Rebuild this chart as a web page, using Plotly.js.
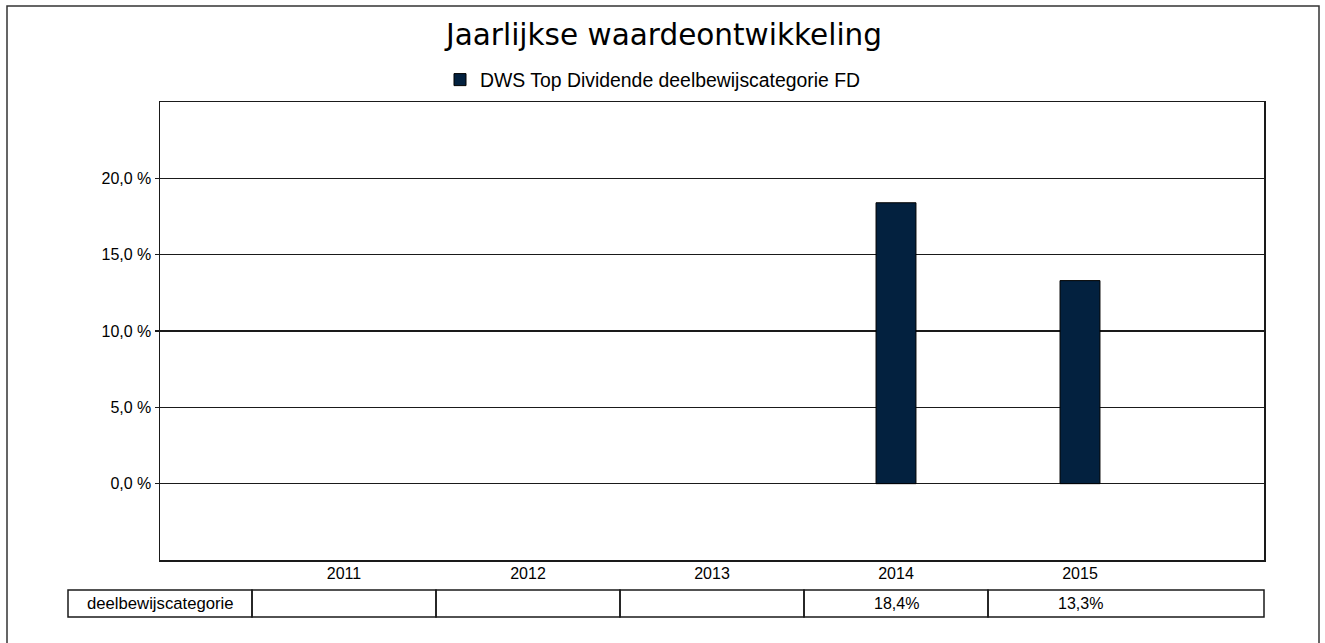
<!DOCTYPE html>
<html>
<head>
<meta charset="utf-8">
<script src="https://cdn.plot.ly/plotly-3.0.1.min.js"></script>
<style>html,body{margin:0;padding:0;background:#fff;}#chart{width:1325px;height:643px;}</style>
</head>
<body>
<div id="chart"></div>
<script>
const years = ['2011', '2012', '2013', '2014', '2015'];
const values = [null, null, null, 18.4, 13.3];
const tableLabels = ['', '', '', '18,4%', '13,3%'];
const seriesName = 'DWS Top Dividende deelbewijscategorie FD';
const rowLabel = 'deelbewijscategorie';
const yTicks = [0, 5, 10, 15, 20];
const yTickText = ['0,0 %', '5,0 %', '10,0 %', '15,0 %', '20,0 %'];

const W = 1325, H = 643;
const mL = 160, mR = 61, mT = 102, mB = 83;
const pw = W - mL - mR, ph = H - mT - mB;
const px = v => (v - mL) / pw;
const py = v => (H - mB - v) / ph;
const xRange = [-1, 5];
const dx = d => (d - xRange[0]) / (xRange[1] - xRange[0]); // data x -> paper x

const lineCol = '#1a1a1a';
const fontFam = 'Liberation Sans, Arial, sans-serif';
const shapes = [];
// outer frame (bottom edge runs off the picture)
shapes.push({type: 'rect', xref: 'paper', yref: 'paper', x0: px(7), x1: px(1319), y0: py(6), y1: py(660),
  line: {color: '#333', width: 1.5}, layer: 'below'});
// data table under the plot
const tTop = py(590), tBot = py(617);
const n = years.length;
const bounds = [-1.5];
for (let i = 0; i < n; i++) bounds.push(i - 0.5);
bounds.push(xRange[1]);
for (let i = 0; i < bounds.length - 1; i++) {
  shapes.push({type: 'rect', xref: 'paper', yref: 'paper', x0: dx(bounds[i]), x1: dx(bounds[i + 1]), y0: tBot, y1: tTop,
    line: {color: lineCol, width: 1.5}});
}
const annotations = [];
annotations.push({xref: 'paper', yref: 'paper', x: dx(-1), y: (tTop + tBot) / 2, text: rowLabel, showarrow: false,
  xanchor: 'center', yanchor: 'middle', font: {family: fontFam, size: 16.7, color: '#000'}});
tableLabels.forEach((t, i) => {
  if (t) annotations.push({xref: 'paper', yref: 'paper', x: dx(i), y: (tTop + tBot) / 2, text: t, showarrow: false,
    xanchor: 'center', yanchor: 'middle', font: {family: fontFam, size: 16, color: '#000'}});
});

const data = [{
  type: 'bar', x: years, y: values, name: seriesName, width: 0.217,
  marker: {color: '#03213f', line: {color: '#000', width: 1}},
  hoverinfo: 'skip'
}];

const layout = {
  width: W, height: H,
  margin: {l: mL, r: mR, t: mT, b: mB},
  paper_bgcolor: '#fff', plot_bgcolor: '#fff',
  font: {family: fontFam, size: 16, color: '#000'},
  title: {text: 'Jaarlijkse waardeontwikkeling', xref: 'container', x: 664 / W, xanchor: 'center',
    yref: 'container', y: 1 - 35 / H, yanchor: 'middle',
    font: {family: 'DejaVu Sans, Verdana, sans-serif', size: 29.5, color: '#000'}},
  showlegend: true,
  legend: {orientation: 'h', x: px(440), xanchor: 'left', y: py(80), yanchor: 'middle',
    font: {family: fontFam, size: 19.4, color: '#000'}, bgcolor: 'rgba(0,0,0,0)'},
  xaxis: {type: 'category', range: xRange, showgrid: false, zeroline: false, showline: true, mirror: true,
    linecolor: lineCol, linewidth: 1.5, ticks: '', tickfont: {size: 16, color: '#000'},
    ticklabelstandoff: -2, fixedrange: true},
  yaxis: {range: [-5, 25], tickvals: yTicks, ticktext: yTickText, showgrid: true, gridcolor: lineCol, gridwidth: 1.5,
    zeroline: false, showline: true, mirror: true, linecolor: lineCol, linewidth: 1.5,
    ticks: 'outside', ticklen: 4, tickcolor: lineCol, tickwidth: 1.5,
    ticklabelstandoff: 0, tickfont: {size: 16, color: '#000'}, fixedrange: true},
  shapes: shapes,
  annotations: annotations,
  bargap: 0
};

Plotly.newPlot('chart', data, layout, {displayModeBar: false, staticPlot: true});
</script>
</body>
</html>
